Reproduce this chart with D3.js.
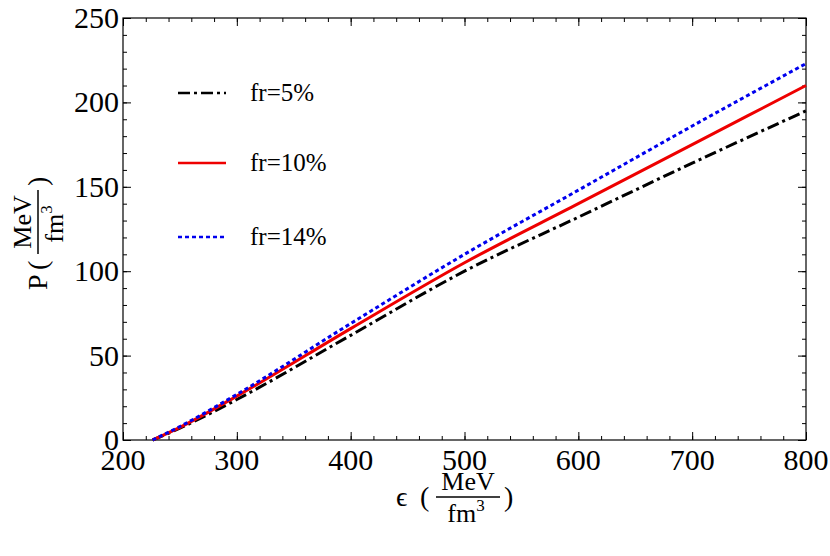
<!DOCTYPE html>
<html>
<head>
<meta charset="utf-8" />
<script src="https://cdn.jsdelivr.net/npm/d3@7"></script>
<style>
body{margin:0;background:#fff;}
text{font-family:"Times New Roman","Liberation Serif",Times,serif;}
</style>
</head>
<body>
<script>
var energy = [226, 250, 300, 400, 500, 600, 700, 800];
var p5  = [0, 7, 24, 62, 100, 132, 164, 195];
var p10 = [0, 7.5, 26, 66, 105, 140, 175, 210];
var p14 = [0, 8, 27, 69, 110, 148, 186, 223];
var labels = ["fr=5%", "fr=10%", "fr=14%"];
var xTicks = [200, 300, 400, 500, 600, 700, 800];
var yTicks = [0, 50, 100, 150, 200, 250];

var W = 830, H = 556, m = {l:123, r:24, t:18, b:116};
var svg = d3.select("body").append("svg").attr("width", W).attr("height", H);
var x = d3.scaleLinear().domain([200, 800]).range([m.l, W - m.r]);
var y = d3.scaleLinear().domain([0, 250]).range([H - m.b, m.t]);

// frame
svg.append("rect").attr("x", m.l).attr("y", m.t).attr("width", x(800) - m.l).attr("height", y(0) - m.t)
  .attr("fill", "none").attr("stroke", "#000").attr("stroke-width", 1.2);

function ticks(axis, vals, len) {
  var g = svg.append("g").call(axis.tickValues(vals).tickSize(len).tickFormat(""));
  g.select(".domain").remove();
  g.selectAll("line").attr("stroke", "#000");
  return g;
}
var xs = d3.range(200, 801, 20), ys = d3.range(0, 251, 10);
ticks(d3.axisTop(x), xs, 4).attr("transform", "translate(0," + y(0) + ")");
ticks(d3.axisTop(x), xTicks, 8).attr("transform", "translate(0," + y(0) + ")");
ticks(d3.axisBottom(x), xs, 4).attr("transform", "translate(0," + m.t + ")");
ticks(d3.axisBottom(x), xTicks, 8).attr("transform", "translate(0," + m.t + ")");
ticks(d3.axisRight(y), ys, 4).attr("transform", "translate(" + m.l + ",0)");
ticks(d3.axisRight(y), yTicks, 8).attr("transform", "translate(" + m.l + ",0)");
ticks(d3.axisLeft(y), ys, 4).attr("transform", "translate(" + x(800) + ",0)");
ticks(d3.axisLeft(y), yTicks, 8).attr("transform", "translate(" + x(800) + ",0)");

svg.selectAll(".xl").data(xTicks).enter().append("text")
  .attr("x", function(d){ return x(d); }).attr("y", y(0) + 30)
  .attr("text-anchor", "middle").attr("font-size", 30).text(function(d){ return d; });
svg.selectAll(".yl").data(yTicks).enter().append("text")
  .attr("x", m.l - 4).attr("y", function(d){ return y(d) + 10; })
  .attr("text-anchor", "end").attr("font-size", 30).text(function(d){ return d; });

var series = [
  {v: p5, c: "#000", dash: "12,4,3,4"},
  {v: p10, c: "#e00", dash: null},
  {v: p14, c: "#00e", dash: "4,3"}
];
var line = d3.line().x(function(d){ return x(d[0]); }).y(function(d){ return y(d[1]); }).curve(d3.curveMonotoneX);
series.forEach(function(s, i) {
  svg.append("path").datum(d3.zip(energy, s.v)).attr("d", line)
    .attr("fill", "none").attr("stroke", s.c).attr("stroke-width", 3)
    .attr("stroke-dasharray", s.dash);
  var ly = [93, 163, 237][i];
  svg.append("line").attr("x1", 178).attr("x2", 226).attr("y1", ly).attr("y2", ly)
    .attr("stroke", s.c).attr("stroke-width", 2.5).attr("stroke-dasharray", s.dash);
  svg.append("text").attr("x", 250).attr("y", ly + 8).attr("font-size", 25).text(labels[i]);
});

// axis labels with fractions
function unitLabel(g) {
  g.append("text").attr("x", 0).attr("y", 9).attr("font-size", 28).text("(");
  g.append("text").attr("x", 48).attr("y", -7).attr("text-anchor", "middle").attr("font-size", 26).text("MeV");
  g.append("line").attr("x1", 16).attr("x2", 80).attr("y1", 0).attr("y2", 0).attr("stroke", "#000").attr("stroke-width", 1.5);
  var t = g.append("text").attr("x", 46).attr("y", 25).attr("text-anchor", "middle").attr("font-size", 26).text("fm");
  t.append("tspan").attr("dy", -11).attr("font-size", 17).text("3");
  g.append("text").attr("x", 84).attr("y", 9).attr("font-size", 28).text(")");
}
var gx = svg.append("g").attr("transform", "translate(420,497)");
gx.append("text").attr("x", -24).attr("y", 9).attr("font-size", 28).text("ϵ");
unitLabel(gx);

var gy = svg.append("g").attr("transform", "translate(38,270) rotate(-90)");
gy.append("text").attr("x", -20).attr("y", 9).attr("font-size", 28).text("P");
unitLabel(gy);
</script>
</body>
</html>
